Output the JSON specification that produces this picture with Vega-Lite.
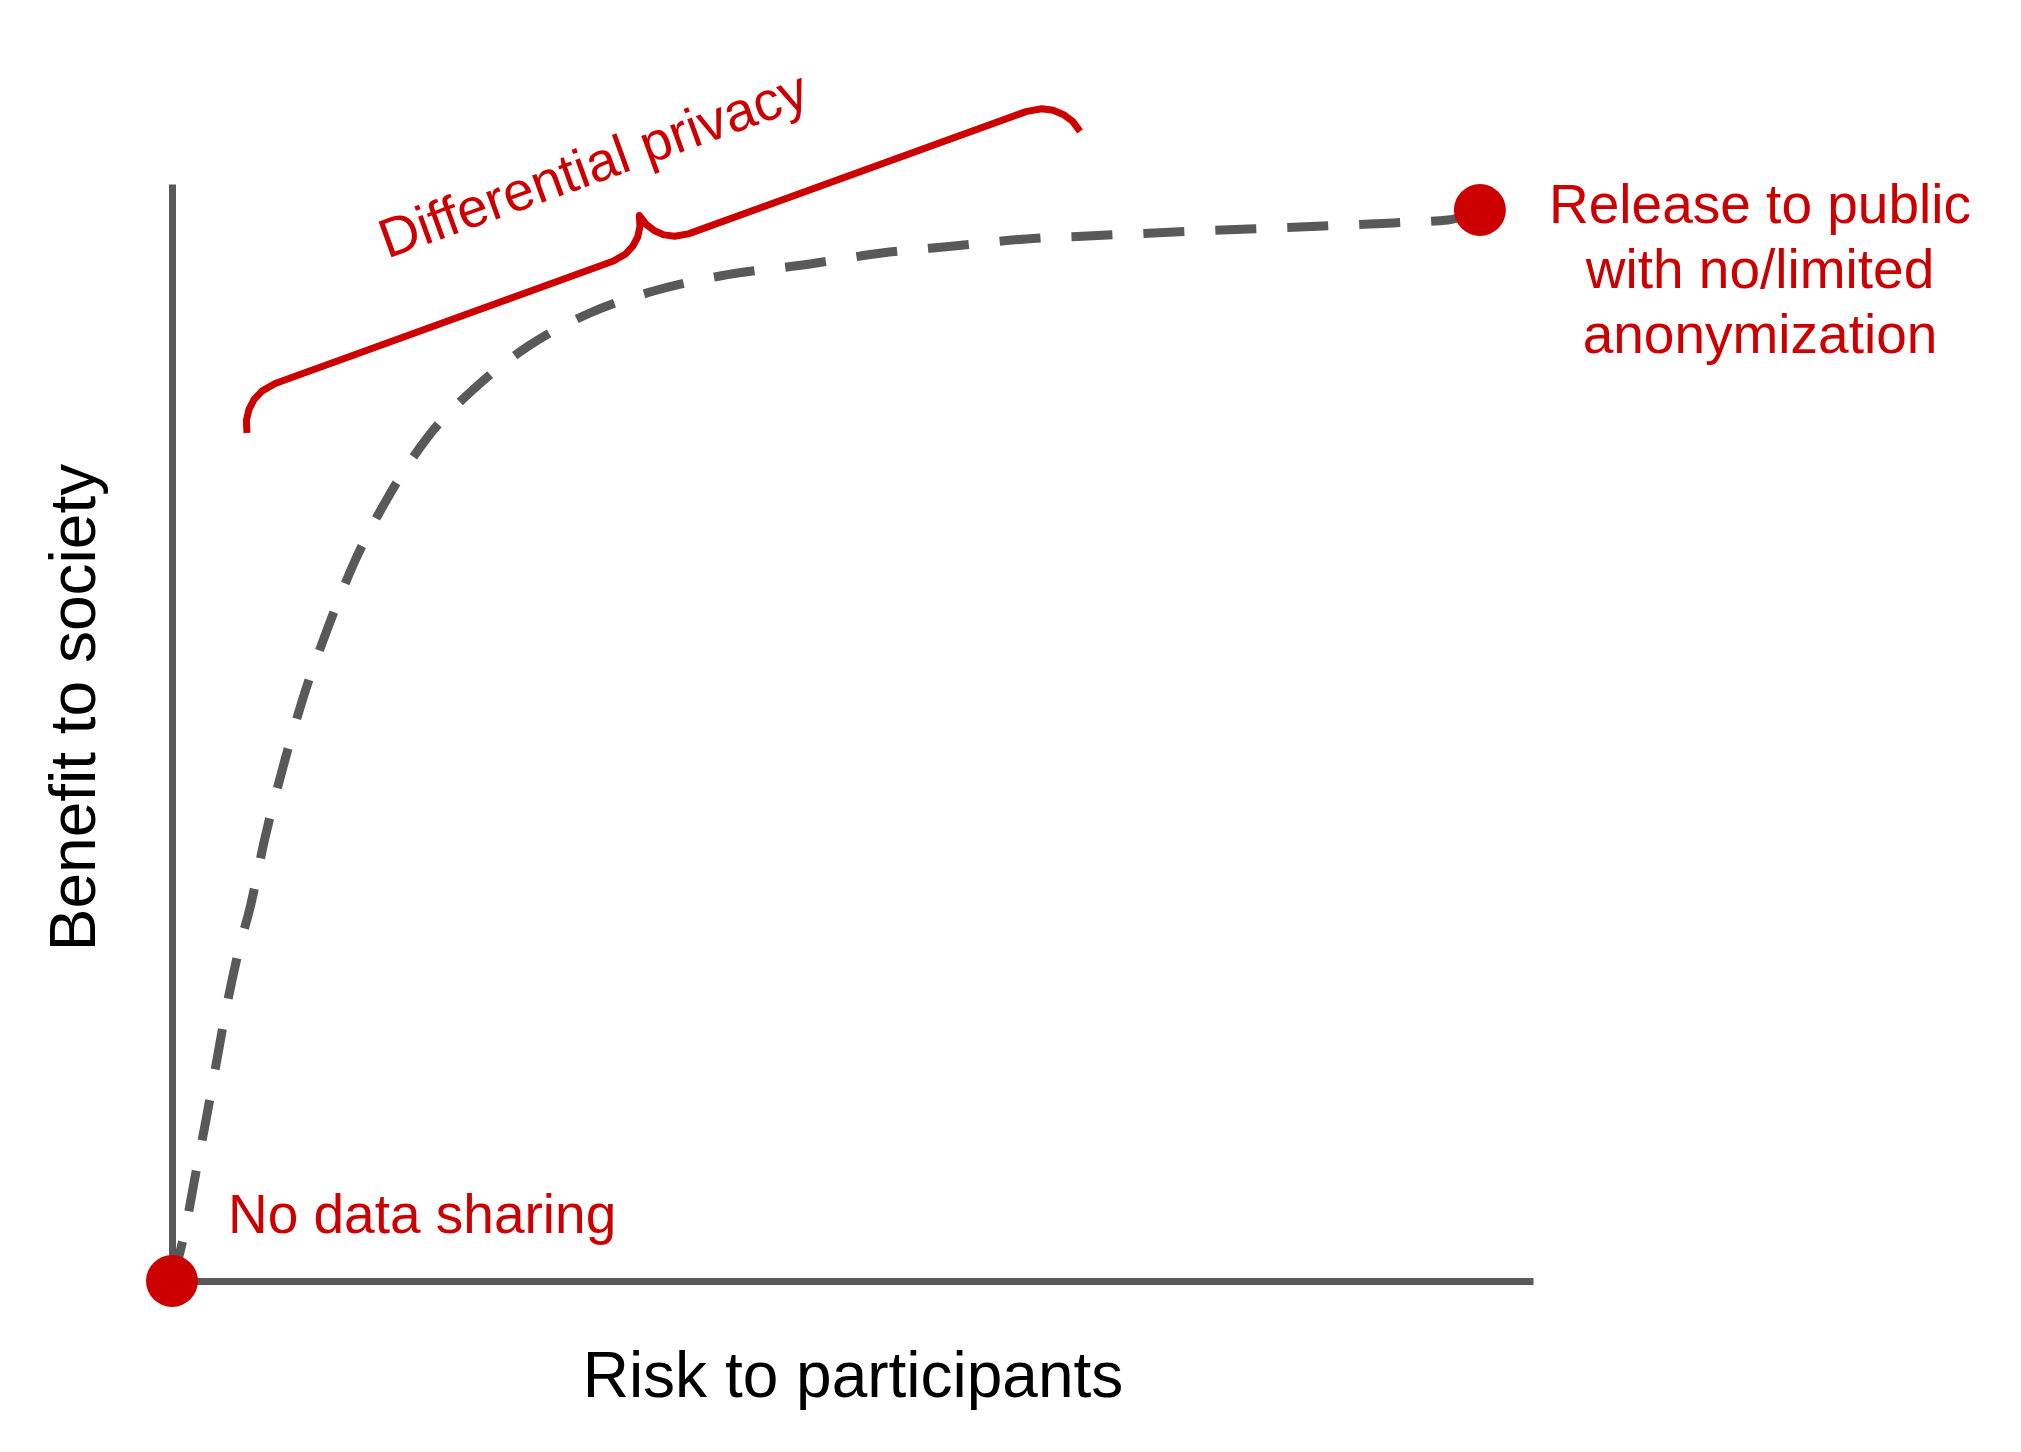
{
  "$schema": "https://vega.github.io/schema/vega-lite/v6.json",
  "width": 1361,
  "height": 1097,
  "autosize": {"type": "none"},
  "padding": {"left": 172, "top": 184, "right": 488, "bottom": 171},
  "background": "white",
  "config": {"view": {"stroke": null}, "font": "Liberation Sans"},
  "encoding": {
    "x": {
      "field": "risk", "type": "quantitative",
      "scale": {"domain": [0, 100], "nice": false, "zero": false},
      "axis": {"title": "Risk to participants", "labels": false, "ticks": false, "grid": false,
        "domainColor": "#595959", "domainWidth": 7, "titleFontSize": 64, "titleFont": "Liberation Sans",
        "titleFontWeight": "normal", "titleColor": "#000000", "titleBaseline": "alphabetic", "titlePadding": 115}
    },
    "y": {
      "field": "benefit", "type": "quantitative",
      "scale": {"domain": [0, 100], "nice": false, "zero": false},
      "axis": {"title": "Benefit to society", "labels": false, "ticks": false, "grid": false,
        "domainColor": "#595959", "domainWidth": 7, "titleFontSize": 64, "titleFont": "Liberation Sans",
        "titleFontWeight": "normal", "titleColor": "#000000", "titlePadding": 65, "titleY": 523}
    }
  },
  "layer": [
    {
      "data": {"values": [
        {"i": 0, "risk": 0, "benefit": 0},
        {"i": 1, "risk": 0.59, "benefit": 2.64},
        {"i": 2, "risk": 1.18, "benefit": 6.02},
        {"i": 3, "risk": 1.76, "benefit": 9.94},
        {"i": 4, "risk": 2.5, "benefit": 14.68},
        {"i": 5, "risk": 3.23, "benefit": 19.69},
        {"i": 6, "risk": 4.11, "benefit": 25.62},
        {"i": 7, "risk": 5.0, "benefit": 30.63},
        {"i": 8, "risk": 5.73, "benefit": 34.0},
        {"i": 9, "risk": 6.83, "benefit": 40.38},
        {"i": 10, "risk": 8.16, "benefit": 46.86},
        {"i": 11, "risk": 9.63, "benefit": 53.15},
        {"i": 12, "risk": 11.39, "benefit": 59.34},
        {"i": 13, "risk": 13.37, "benefit": 65.45},
        {"i": 14, "risk": 15.8, "benefit": 71.29},
        {"i": 15, "risk": 18.74, "benefit": 76.85},
        {"i": 16, "risk": 22.34, "benefit": 81.5},
        {"i": 17, "risk": 26.3, "benefit": 85.32},
        {"i": 18, "risk": 30.71, "benefit": 88.24},
        {"i": 19, "risk": 35.12, "benefit": 90.15},
        {"i": 20, "risk": 40.26, "benefit": 91.61},
        {"i": 21, "risk": 46.88, "benefit": 92.71},
        {"i": 22, "risk": 52.17, "benefit": 93.71},
        {"i": 23, "risk": 57.46, "benefit": 94.35},
        {"i": 24, "risk": 62.75, "benefit": 94.99},
        {"i": 25, "risk": 67.3, "benefit": 95.26},
        {"i": 26, "risk": 75.53, "benefit": 95.72},
        {"i": 27, "risk": 82.88, "benefit": 96.08},
        {"i": 28, "risk": 89.71, "benefit": 96.45},
        {"i": 29, "risk": 93.75, "benefit": 96.72},
        {"i": 30, "risk": 96.1, "benefit": 97.63}
      ]},
      "mark": {"type": "line", "color": "#595959", "strokeWidth": 9, "strokeDash": [41, 31], "strokeCap": "butt", "interpolate": "monotone"},
      "encoding": {"order": {"field": "i", "type": "quantitative"}}
    },
    {
      "data": {"values": [
        {"i": 1, "risk": 5.511, "benefit": 77.3},
        {"i": 2, "risk": 5.462, "benefit": 78.41},
        {"i": 3, "risk": 5.646, "benefit": 79.43},
        {"i": 4, "risk": 6.036, "benefit": 80.36},
        {"i": 5, "risk": 6.606, "benefit": 81.12},
        {"i": 6, "risk": 7.577, "benefit": 81.82},
        {"i": 7, "risk": 32.44, "benefit": 92.98},
        {"i": 8, "risk": 33.33, "benefit": 93.62},
        {"i": 9, "risk": 33.86, "benefit": 94.33},
        {"i": 10, "risk": 34.22, "benefit": 95.17},
        {"i": 11, "risk": 34.38, "benefit": 96.11},
        {"i": 12, "risk": 34.34, "benefit": 97.13},
        {"i": 13, "risk": 34.84, "benefit": 96.32},
        {"i": 14, "risk": 35.45, "benefit": 95.73},
        {"i": 15, "risk": 36.16, "benefit": 95.36},
        {"i": 16, "risk": 36.93, "benefit": 95.24},
        {"i": 17, "risk": 37.94, "benefit": 95.45},
        {"i": 18, "risk": 62.81, "benefit": 106.62},
        {"i": 19, "risk": 63.91, "benefit": 106.86},
        {"i": 20, "risk": 64.74, "benefit": 106.72},
        {"i": 21, "risk": 65.52, "benefit": 106.32},
        {"i": 22, "risk": 66.19, "benefit": 105.69},
        {"i": 23, "risk": 66.72, "benefit": 104.8}
      ]},
      "mark": {"type": "line", "color": "#CC0000", "strokeWidth": 7, "strokeJoin": "round", "strokeCap": "butt"},
      "encoding": {"order": {"field": "i", "type": "quantitative"}}
    },
    {
      "data": {"values": [
        {"risk": 0, "benefit": 0},
        {"risk": 96.1, "benefit": 97.63}
      ]},
      "mark": {"type": "point", "shape": "circle", "filled": true, "color": "#CC0000", "opacity": 1, "size": 2700}
    },
    {
      "data": {"values": [{"risk": 4.11, "benefit": 4.38, "label": "No data sharing"}]},
      "mark": {"type": "text", "align": "left", "baseline": "alphabetic", "fontSize": 55, "color": "#CC0000", "font": "Liberation Sans"},
      "encoding": {"text": {"field": "label", "type": "nominal"}}
    },
    {
      "data": {"values": [{"risk": 116.68, "benefit": 96.45, "label": "Release to public\nwith no/limited\nanonymization"}]},
      "mark": {"type": "text", "align": "center", "baseline": "alphabetic", "fontSize": 55, "lineHeight": 65, "lineBreak": "\n", "color": "#CC0000", "font": "Liberation Sans"},
      "encoding": {"text": {"field": "label", "type": "nominal"}}
    },
    {
      "data": {"values": [{"risk": 31.4, "benefit": 100.18, "label": "Differential privacy"}]},
      "mark": {"type": "text", "align": "center", "baseline": "alphabetic", "fontSize": 55, "angle": 340.1, "color": "#CC0000", "font": "Liberation Sans"},
      "encoding": {"text": {"field": "label", "type": "nominal"}}
    }
  ]
}
